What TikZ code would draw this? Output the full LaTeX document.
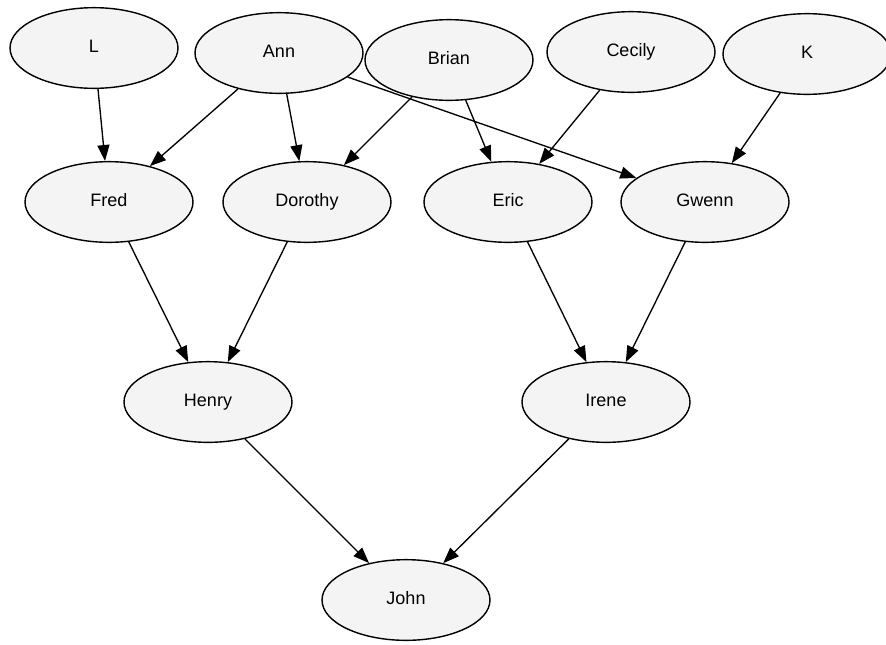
\documentclass[tikz,border=0pt]{standalone}
\usepackage{fontspec}
\setmainfont{Liberation Sans}
\usetikzlibrary{arrows.meta,shapes.geometric}
\begin{document}
\begin{tikzpicture}[x=0.75pt,y=-0.75pt,
  person/.style={ellipse,draw=black,line width=1.05pt,fill=gray!9,inner sep=0pt,
    text height=9.5pt,text depth=2.5pt,
    minimum width=126pt,minimum height=60.5pt,font=\fontsize{13.5}{15}\selectfont},
  link/.style={draw=black,line width=1pt,-{Triangle[length=12pt,width=9pt]}}]
\useasboundingbox (0,0) rectangle (886,644);
\fill[white] (0,0) rectangle (886,644);
\node[person] (L) at (94,48) {L};
\node[person] (Ann) at (279,53) {Ann};
\node[person] (Brian) at (449,60) {Brian};
\node[person] (Cecily) at (631,52) {Cecily};
\node[person] (K) at (807,54) {K};
\node[person] (Fred) at (109,202) {Fred};
\node[person] (Dorothy) at (307,202) {Dorothy};
\node[person] (Eric) at (508,202) {Eric};
\node[person] (Gwenn) at (705,202) {Gwenn};
\node[person] (Henry) at (208,402) {Henry};
\node[person] (Irene) at (606,402) {Irene};
\node[person] (John) at (406,600) {John};
\draw[link] (L) -- (Fred);
\draw[link] (Ann) -- (Fred);
\draw[link] (Ann) -- (Dorothy);
\draw[link] (Ann) -- (Gwenn);
\draw[link] (Brian) -- (Dorothy);
\draw[link] (Brian) -- (Eric);
\draw[link] (Cecily) -- (Eric);
\draw[link] (K) -- (Gwenn);
\draw[link] (Fred) -- (Henry);
\draw[link] (Dorothy) -- (Henry);
\draw[link] (Eric) -- (Irene);
\draw[link] (Gwenn) -- (Irene);
\draw[link] (Henry) -- (John);
\draw[link] (Irene) -- (John);
\end{tikzpicture}
\end{document}
